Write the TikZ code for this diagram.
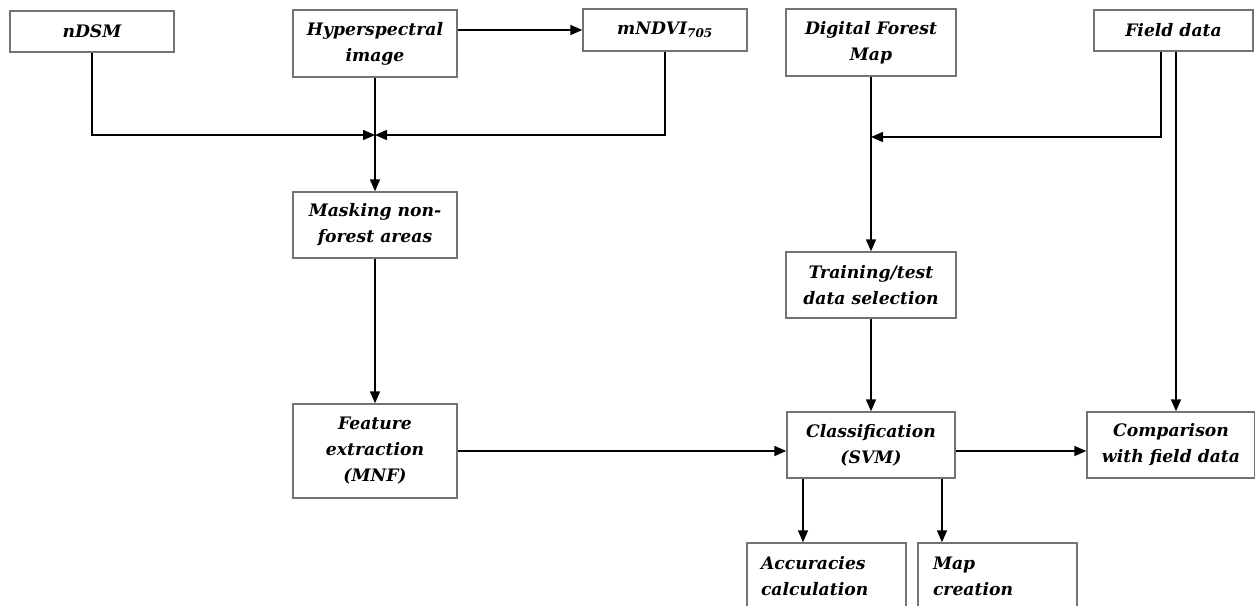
\documentclass[tikz,border=0pt]{standalone}
\usepackage{fontspec}
\setmainfont{DejaVu Serif}
\usetikzlibrary{arrows.meta}
\tikzset{
	blk/.style={draw=black!55, line width=1.4pt, inner sep=0pt, align=center, font=\bfseries\itshape\fontsize{17.2}{26}\selectfont},
	arr/.style={line width=1.6pt, -{Triangle[length=12pt,width=10pt]}},
	ln/.style={line width=1.6pt}
}
\begin{document}
\begin{tikzpicture}[x=1pt,y=-1pt]
			\path[use as bounding box, clip] (0,0) rectangle (1255,605);
			\node[blk, minimum width=164pt, minimum height=41pt] (ndsm) at (92,31.5) {nDSM};
			\node[blk, minimum width=164pt, minimum height=67pt] (hyp) at (375,43.5) {Hyperspectral\\image};
			\node[blk, minimum width=164pt, minimum height=42pt] (mndvi) at (665,30) {mNDVI\textsubscript{705}};
			\node[blk, minimum width=170pt, minimum height=67pt] (dfm) at (871,42.5) {Digital Forest\\Map};
			\node[blk, minimum width=159pt, minimum height=41pt] (fd) at (1173.5,30.5) {Field data};
			\node[blk, minimum width=164pt, minimum height=66pt] (mask) at (375,225) {Masking non-\\forest areas};
			\node[blk, minimum width=170pt, minimum height=66pt] (train) at (871,285) {Training/test\\data selection};
			\node[blk, minimum width=164pt, minimum height=94pt] (feat) at (375,451) {Feature\\extraction\\(MNF)};
			\node[blk, minimum width=168pt, minimum height=66pt] (cls) at (871,445) {Classification\\(SVM)};
			\node[blk, minimum width=168pt, minimum height=66pt] (cmp) at (1171,445) {Comparison\\with field data};
			\node[blk, minimum width=159pt, minimum height=66pt, align=left, text width=131pt] (acc) at (826.5,576) {Accuracies\\calculation};
			\node[blk, minimum width=159pt, minimum height=66pt, align=left, text width=129pt] (map) at (997.5,576) {Map\\creation};
			\coordinate (jl) at (375,135);
			\coordinate (jr) at (871,137);
			\draw[arr] (hyp.east |- mndvi.west) -- (mndvi.west);
			\draw[arr] (ndsm.south) |- (jl);
			\draw[arr] (mndvi.south) |- (jl);
			\draw[arr] (hyp.south) -- (mask.north);
			\draw[arr] (mask.south) -- (feat.north);
			\draw[arr] (feat.east) -- (feat.east -| cls.west);
			\draw[arr] (dfm.south) -- (train.north);
			\draw[arr] ([xshift=-12.5pt]fd.south) |- (jr);
			\draw[arr] ([xshift=2.5pt]fd.south) -- ([xshift=2.5pt]fd.south |- cmp.north);
			\draw[arr] (train.south) -- (cls.north);
			\draw[arr] ([yshift=-6pt]cls.east) -- ([yshift=-6pt]cmp.west);
			\draw[arr] ([xshift=-68pt]cls.south) -- ([xshift=-68pt]cls.south |- acc.north);
			\draw[arr] ([xshift=71pt]cls.south) -- ([xshift=71pt]cls.south |- map.north);
		\end{tikzpicture}
\end{document}
